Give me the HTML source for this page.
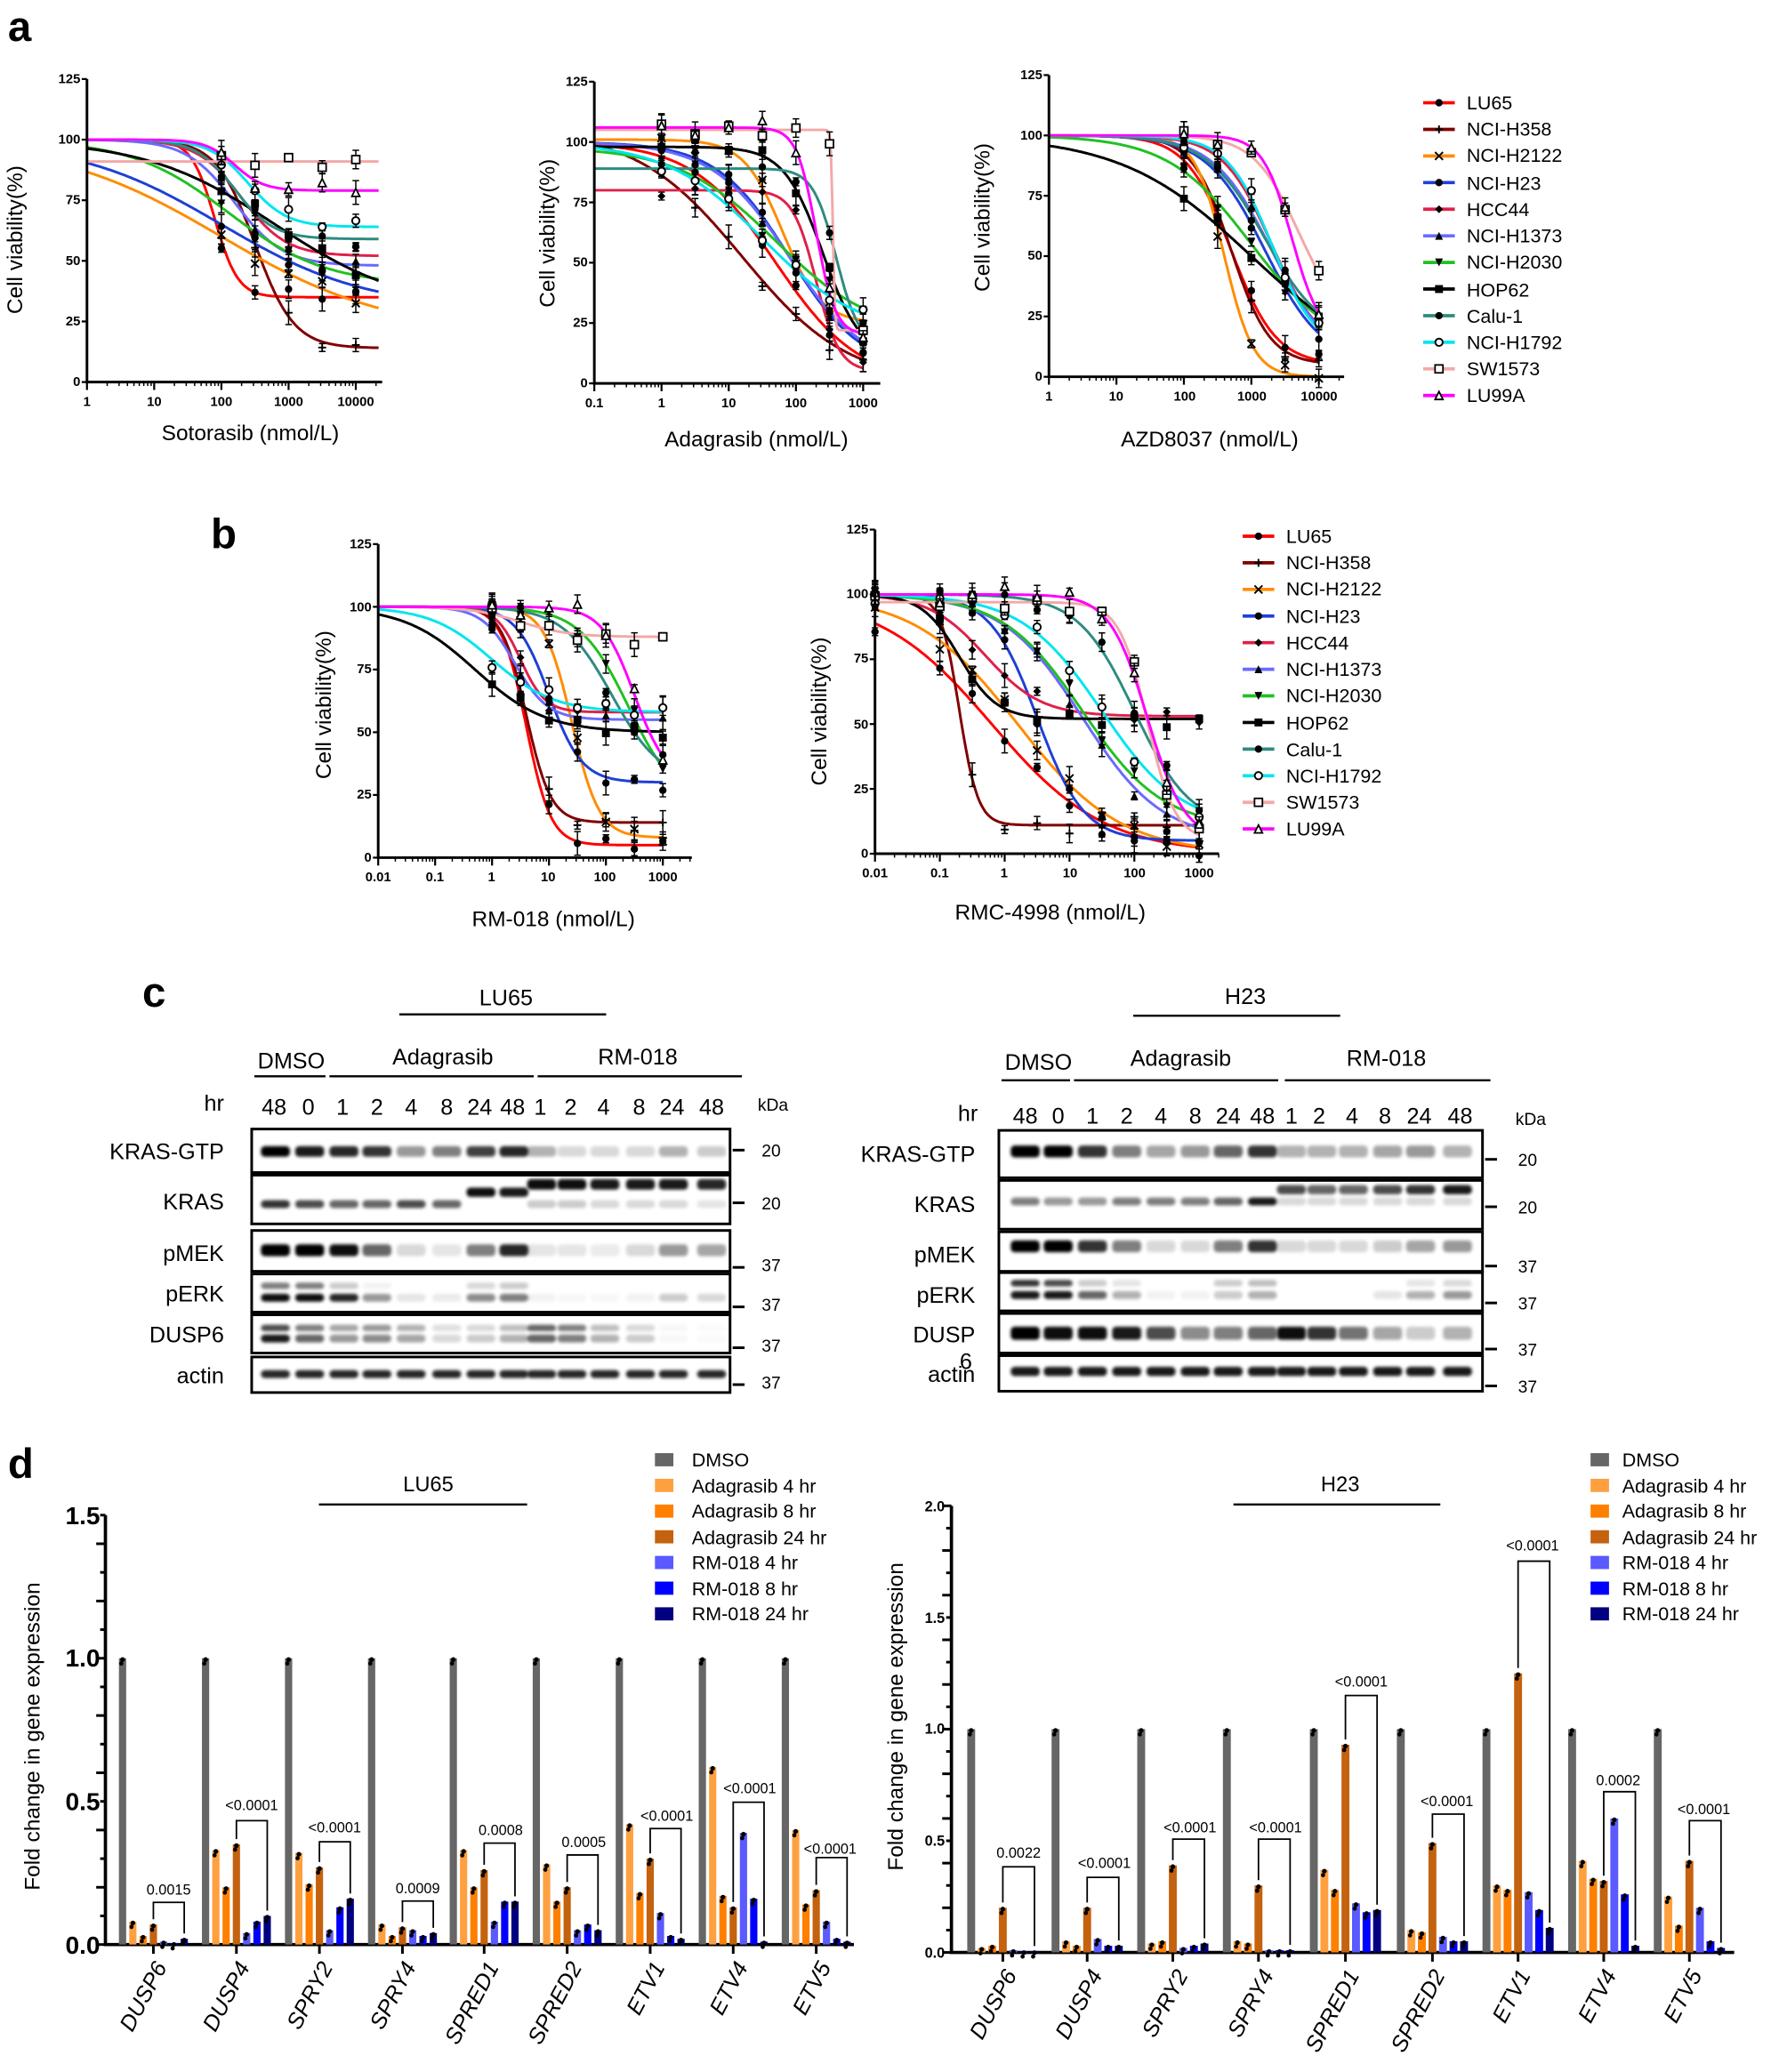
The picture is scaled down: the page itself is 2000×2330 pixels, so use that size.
<!DOCTYPE html>
<html><head><meta charset="utf-8"><style>
html,body{margin:0;padding:0;background:#fff;}
svg{display:block;font-family:"Liberation Sans",Arial,sans-serif;}
.tk{font-family:"Liberation Sans Narrow","Liberation Sans",sans-serif;font-weight:bold;font-size:10px;}
.al{font-size:16.5px;}
.lg{font-size:14.5px;}
.bl{font-size:17px;}
.pl{font-size:32px;font-weight:bold;}
.gn{font-size:17px;font-style:italic;}
.sg{font-size:11px;}
</style></head><body>
<svg id="s" width="2000" height="2330" viewBox="0 0 1350 1572.75" xmlns="http://www.w3.org/2000/svg">
<defs><filter id="bl" x="-20%" y="-50%" width="140%" height="200%"><feGaussianBlur stdDeviation="1.3"/></filter></defs>
<rect width="1350" height="1573" fill="#fff"/>
<!-- panel letters -->
<text class="pl" x="6" y="31">a</text>
<text class="pl" x="160" y="416">b</text>
<text class="pl" x="108" y="764">c</text>
<text class="pl" x="6" y="1122">d</text>

<!-- axis labels a/b -->
<text class="al" x="190" y="334" text-anchor="middle">Sotorasib (nmol/L)</text>
<text class="al" x="574" y="339" text-anchor="middle">Adagrasib (nmol/L)</text>
<text class="al" x="918" y="339" text-anchor="middle">AZD8037 (nmol/L)</text>
<text class="al" x="420" y="703" text-anchor="middle">RM-018 (nmol/L)</text>
<text class="al" x="797" y="698" text-anchor="middle">RMC-4998 (nmol/L)</text>
<text class="al" transform="translate(17,182) rotate(-90)" text-anchor="middle">Cell viability(%)</text>
<text class="al" transform="translate(421,177) rotate(-90)" text-anchor="middle">Cell viability(%)</text>
<text class="al" transform="translate(751,165) rotate(-90)" text-anchor="middle">Cell viability(%)</text>
<text class="al" transform="translate(251,535) rotate(-90)" text-anchor="middle">Cell viability(%)</text>
<text class="al" transform="translate(627,540) rotate(-90)" text-anchor="middle">Cell viability(%)</text>

<!-- legends a & b -->
<g class="lg">
<text x="1113" y="83">LU65</text><text x="1113" y="103">NCI-H358</text><text x="1113" y="123">NCI-H2122</text><text x="1113" y="144">NCI-H23</text><text x="1113" y="164">HCC44</text><text x="1113" y="184">NCI-H1373</text><text x="1113" y="204">NCI-H2030</text><text x="1113" y="225">HOP62</text><text x="1113" y="245">Calu-1</text><text x="1113" y="265">NCI-H1792</text><text x="1113" y="285">SW1573</text><text x="1113" y="305">LU99A</text>
<text x="976" y="412">LU65</text><text x="976" y="432">NCI-H358</text><text x="976" y="452">NCI-H2122</text><text x="976" y="473">NCI-H23</text><text x="976" y="493">HCC44</text><text x="976" y="513">NCI-H1373</text><text x="976" y="533">NCI-H2030</text><text x="976" y="554">HOP62</text><text x="976" y="574">Calu-1</text><text x="976" y="594">NCI-H1792</text><text x="976" y="614">SW1573</text><text x="976" y="634">LU99A</text>
</g>
<g class="tk" id="tks">
<!-- plot1 -->
<text x="61" y="63" text-anchor="end">125</text><text x="61" y="109" text-anchor="end">100</text><text x="61" y="155" text-anchor="end">75</text><text x="61" y="201" text-anchor="end">50</text><text x="61" y="247" text-anchor="end">25</text><text x="61" y="293" text-anchor="end">0</text>
<text x="66" y="308" text-anchor="middle">1</text><text x="117" y="308" text-anchor="middle">10</text><text x="168" y="308" text-anchor="middle">100</text><text x="219" y="308" text-anchor="middle">1000</text><text x="270" y="308" text-anchor="middle">10000</text>
<!-- plot2 -->
<text x="446" y="65" text-anchor="end">125</text><text x="446" y="111" text-anchor="end">100</text><text x="446" y="157" text-anchor="end">75</text><text x="446" y="202" text-anchor="end">50</text><text x="446" y="248" text-anchor="end">25</text><text x="446" y="294" text-anchor="end">0</text>
<text x="451" y="309" text-anchor="middle">0.1</text><text x="502" y="309" text-anchor="middle">1</text><text x="553" y="309" text-anchor="middle">10</text><text x="604" y="309" text-anchor="middle">100</text><text x="655" y="309" text-anchor="middle">1000</text>
<!-- plot3 -->
<text x="791" y="60" text-anchor="end">125</text><text x="791" y="106" text-anchor="end">100</text><text x="791" y="152" text-anchor="end">75</text><text x="791" y="197" text-anchor="end">50</text><text x="791" y="243" text-anchor="end">25</text><text x="791" y="289" text-anchor="end">0</text>
<text x="796" y="304" text-anchor="middle">1</text><text x="847" y="304" text-anchor="middle">10</text><text x="899" y="304" text-anchor="middle">100</text><text x="950" y="304" text-anchor="middle">1000</text><text x="1001" y="304" text-anchor="middle">10000</text>
<!-- plot4 -->
<text x="282" y="416" text-anchor="end">125</text><text x="282" y="464" text-anchor="end">100</text><text x="282" y="511" text-anchor="end">75</text><text x="282" y="559" text-anchor="end">50</text><text x="282" y="606" text-anchor="end">25</text><text x="282" y="654" text-anchor="end">0</text>
<text x="287" y="669" text-anchor="middle">0.01</text><text x="330" y="669" text-anchor="middle">0.1</text><text x="373" y="669" text-anchor="middle">1</text><text x="416" y="669" text-anchor="middle">10</text><text x="459" y="669" text-anchor="middle">100</text><text x="503" y="669" text-anchor="middle">1000</text>
<!-- plot5 -->
<text x="659" y="405" text-anchor="end">125</text><text x="659" y="454" text-anchor="end">100</text><text x="659" y="503" text-anchor="end">75</text><text x="659" y="553" text-anchor="end">50</text><text x="659" y="602" text-anchor="end">25</text><text x="659" y="651" text-anchor="end">0</text>
<text x="664" y="666" text-anchor="middle">0.01</text><text x="713" y="666" text-anchor="middle">0.1</text><text x="762" y="666" text-anchor="middle">1</text><text x="812" y="666" text-anchor="middle">10</text><text x="861" y="666" text-anchor="middle">100</text><text x="910" y="666" text-anchor="middle">1000</text>
</g>

<!-- panel c text -->
<g class="bl">
<text x="384" y="763" text-anchor="middle">LU65</text>
<text x="221" y="811" text-anchor="middle">DMSO</text><text x="336" y="808" text-anchor="middle">Adagrasib</text><text x="484" y="808" text-anchor="middle">RM-018</text>
<text x="170" y="843" text-anchor="end">hr</text>
<text x="208" y="846" text-anchor="middle">48</text><text x="234" y="846" text-anchor="middle">0</text><text x="260" y="846" text-anchor="middle">1</text><text x="286" y="846" text-anchor="middle">2</text><text x="312" y="846" text-anchor="middle">4</text><text x="339" y="846" text-anchor="middle">8</text><text x="364" y="846" text-anchor="middle">24</text><text x="389" y="846" text-anchor="middle">48</text><text x="410" y="846" text-anchor="middle">1</text><text x="433" y="846" text-anchor="middle">2</text><text x="458" y="846" text-anchor="middle">4</text><text x="485" y="846" text-anchor="middle">8</text><text x="510" y="846" text-anchor="middle">24</text><text x="540" y="846" text-anchor="middle">48</text>
<text x="170" y="880" text-anchor="end">KRAS-GTP</text><text x="170" y="918" text-anchor="end">KRAS</text><text x="170" y="957" text-anchor="end">pMEK</text><text x="170" y="988" text-anchor="end">pERK</text><text x="170" y="1019" text-anchor="end">DUSP6</text><text x="170" y="1050" text-anchor="end">actin</text>
<text x="945" y="762" text-anchor="middle">H23</text>
<text x="788" y="812" text-anchor="middle">DMSO</text><text x="896" y="809" text-anchor="middle">Adagrasib</text><text x="1052" y="809" text-anchor="middle">RM-018</text>
<text x="742" y="851" text-anchor="end">hr</text>
<text x="778" y="853" text-anchor="middle">48</text><text x="803" y="853" text-anchor="middle">0</text><text x="829" y="853" text-anchor="middle">1</text><text x="855" y="853" text-anchor="middle">2</text><text x="881" y="853" text-anchor="middle">4</text><text x="907" y="853" text-anchor="middle">8</text><text x="932" y="853" text-anchor="middle">24</text><text x="958" y="853" text-anchor="middle">48</text><text x="980" y="853" text-anchor="middle">1</text><text x="1001" y="853" text-anchor="middle">2</text><text x="1026" y="853" text-anchor="middle">4</text><text x="1051" y="853" text-anchor="middle">8</text><text x="1077" y="853" text-anchor="middle">24</text><text x="1108" y="853" text-anchor="middle">48</text>
<text x="740" y="882" text-anchor="end">KRAS-GTP</text><text x="740" y="920" text-anchor="end">KRAS</text><text x="740" y="958" text-anchor="end">pMEK</text><text x="740" y="989" text-anchor="end">pERK</text><text x="740" y="1019" text-anchor="end">DUSP</text><text x="733" y="1039" text-anchor="middle">6</text><text x="740" y="1049" text-anchor="end">actin</text>
</g>
<g style="font-size:13px">
<text x="575" y="843">kDa</text>
<text x="578" y="878">20</text><text x="578" y="918">20</text><text x="578" y="965">37</text><text x="578" y="995">37</text><text x="578" y="1026">37</text><text x="578" y="1054">37</text>
<text x="1150" y="854">kDa</text>
<text x="1152" y="885">20</text><text x="1152" y="921">20</text><text x="1152" y="966">37</text><text x="1152" y="994">37</text><text x="1152" y="1029">37</text><text x="1152" y="1057">37</text>
</g>

<!-- panel d text -->
<g class="lg">
<text x="325" y="1132" text-anchor="middle" style="font-size:16px">LU65</text>
<text x="1017" y="1132" text-anchor="middle" style="font-size:16px">H23</text>
<text x="525" y="1113">DMSO</text><text x="525" y="1133">Adagrasib 4 hr</text><text x="525" y="1152">Adagrasib 8 hr</text><text x="525" y="1172">Adagrasib 24 hr</text><text x="525" y="1191">RM-018 4 hr</text><text x="525" y="1211">RM-018 8 hr</text><text x="525" y="1230">RM-018 24 hr</text>
<text x="1231" y="1113">DMSO</text><text x="1231" y="1133">Adagrasib 4 hr</text><text x="1231" y="1152">Adagrasib 8 hr</text><text x="1231" y="1172">Adagrasib 24 hr</text><text x="1231" y="1191">RM-018 4 hr</text><text x="1231" y="1211">RM-018 8 hr</text><text x="1231" y="1230">RM-018 24 hr</text>
</g>
<g style="font-size:19px;font-weight:bold;font-family:'Liberation Sans Narrow','Liberation Sans',sans-serif">
<text x="76" y="1157" text-anchor="end">1.5</text><text x="76" y="1265" text-anchor="end">1.0</text><text x="76" y="1374" text-anchor="end">0.5</text><text x="76" y="1483" text-anchor="end">0.0</text>
</g>
<g class="tk" style="font-size:11px">
<text x="717" y="1147" text-anchor="end">2.0</text><text x="717" y="1232" text-anchor="end">1.5</text><text x="717" y="1316" text-anchor="end">1.0</text><text x="717" y="1401" text-anchor="end">0.5</text><text x="717" y="1486" text-anchor="end">0.0</text>
</g>
<text class="al" transform="translate(30,1318) rotate(-90)" text-anchor="middle">Fold change in gene expression</text>
<text class="al" transform="translate(685,1303) rotate(-90)" text-anchor="middle">Fold change in gene expression</text>
<g class="gn" id="gn1">
<text transform="translate(127,1493) rotate(-62)" text-anchor="end">DUSP6</text>
<text transform="translate(190,1493) rotate(-62)" text-anchor="end">DUSP4</text>
<text transform="translate(253,1493) rotate(-62)" text-anchor="end">SPRY2</text>
<text transform="translate(316,1493) rotate(-62)" text-anchor="end">SPRY4</text>
<text transform="translate(379,1493) rotate(-62)" text-anchor="end">SPRED1</text>
<text transform="translate(442,1493) rotate(-62)" text-anchor="end">SPRED2</text>
<text transform="translate(505,1493) rotate(-62)" text-anchor="end">ETV1</text>
<text transform="translate(568,1493) rotate(-62)" text-anchor="end">ETV4</text>
<text transform="translate(631,1493) rotate(-62)" text-anchor="end">ETV5</text>
<text transform="translate(772,1499) rotate(-62)" text-anchor="end">DUSP6</text>
<text transform="translate(837,1499) rotate(-62)" text-anchor="end">DUSP4</text>
<text transform="translate(902,1499) rotate(-62)" text-anchor="end">SPRY2</text>
<text transform="translate(967,1499) rotate(-62)" text-anchor="end">SPRY4</text>
<text transform="translate(1032,1499) rotate(-62)" text-anchor="end">SPRED1</text>
<text transform="translate(1097,1499) rotate(-62)" text-anchor="end">SPRED2</text>
<text transform="translate(1162,1499) rotate(-62)" text-anchor="end">ETV1</text>
<text transform="translate(1227,1499) rotate(-62)" text-anchor="end">ETV4</text>
<text transform="translate(1292,1499) rotate(-62)" text-anchor="end">ETV5</text>
</g>
<g class="sg" text-anchor="middle">
<text x="128" y="1438">0.0015</text><text x="191" y="1374">&lt;0.0001</text><text x="254" y="1391">&lt;0.0001</text><text x="317" y="1437">0.0009</text><text x="380" y="1393">0.0008</text><text x="443" y="1402">0.0005</text><text x="506" y="1382">&lt;0.0001</text><text x="569" y="1361">&lt;0.0001</text><text x="630" y="1407">&lt;0.0001</text>
<text x="773" y="1410">0.0022</text><text x="838" y="1418">&lt;0.0001</text><text x="903" y="1391">&lt;0.0001</text><text x="968" y="1391">&lt;0.0001</text><text x="1033" y="1280">&lt;0.0001</text><text x="1098" y="1371">&lt;0.0001</text><text x="1163" y="1177">&lt;0.0001</text><text x="1228" y="1355">0.0002</text><text x="1293" y="1377">&lt;0.0001</text>
</g>
<g id="g"></g>
</svg>
<script>
var NS="http://www.w3.org/2000/svg",G=document.getElementById("g");
function el(t,a,p){var e=document.createElementNS(NS,t);for(var k in a)e.setAttribute(k,a[k]);(p||G).appendChild(e);return e;}
var COL=["#ff0000","#800000","#ff8c00","#1f3fd6","#e0204a","#6a6aff","#22c022","#000000","#2e8b80","#00e5ee","#f4a8a8","#ff00ff"];
var MK=["ast","plus","x","dot","dia","tri","tri2","sq","dot","circ","osq","otri"];
function marker(x,y,m,c,p){var s=3;
 if(m=="plus"){el("path",{d:"M"+(x-s)+" "+y+"h"+2*s+"M"+x+" "+(y-s)+"v"+2*s,stroke:c,"stroke-width":1.3},p);}
 else if(m=="x"){el("path",{d:"M"+(x-s)+" "+(y-s)+"l"+2*s+" "+2*s+"M"+(x-s)+" "+(y+s)+"l"+2*s+" "+(-2*s),stroke:c,"stroke-width":1.3},p);}
 else if(m=="dot"||m=="ast"){el("circle",{cx:x,cy:y,r:2.8,fill:c},p);}
 else if(m=="circ"){el("circle",{cx:x,cy:y,r:2.8,fill:"#fff",stroke:c,"stroke-width":1.3},p);}
 else if(m=="dia"){el("path",{d:"M"+x+" "+(y-s)+"l"+s+" "+s+"l"+(-s)+" "+s+"l"+(-s)+" "+(-s)+"z",fill:c},p);}
 else if(m=="tri"){el("path",{d:"M"+x+" "+(y-s)+"l"+s+" "+2*s+"h"+(-2*s)+"z",fill:c},p);}
 else if(m=="tri2"){el("path",{d:"M"+x+" "+(y+s)+"l"+s+" "+(-2*s)+"h"+(-2*s)+"z",fill:c},p);}
 else if(m=="otri"){el("path",{d:"M"+x+" "+(y-s)+"l"+s+" "+2*s+"h"+(-2*s)+"z",fill:"#fff",stroke:c,"stroke-width":1.2},p);}
 else if(m=="sq"){el("rect",{x:x-s,y:y-s,width:2*s,height:2*s,fill:c},p);}
 else if(m=="osq"){el("rect",{x:x-s,y:y-s,width:2*s,height:2*s,fill:"#fff",stroke:c,"stroke-width":1.2},p);}
}
function f(p,l){return p[1]+(p[0]-p[1])/(1+Math.pow(10,(l-p[2])*p[3]));}
function plot(c){
 var Y=function(v){return c.yb-v*(c.yb-c.yt)/125;},X=function(l){return c.x0+(l-c.lmin)*c.dw;};
 // curves
 c.P.forEach(function(p,i){var d="";for(var l=c.lmin;l<=c.lmax+1e-9;l+=0.02){d+=(d?"L":"M")+X(l).toFixed(1)+" "+Y(f(p,l)).toFixed(1);}
  el("path",{d:d,fill:"none",stroke:COL[i],"stroke-width":2});});
 // points
 c.P.forEach(function(p,i){c.pts.forEach(function(l,j){var v=f(p,l)+((i*7+j*13)%9-4)*0.8;var x=X(l),y=Y(v),e=3+((i+j)%4)*2;
  el("path",{d:"M"+x+" "+(y-e)+"v"+2*e+"M"+(x-2.5)+" "+(y-e)+"h5M"+(x-2.5)+" "+(y+e)+"h5",stroke:"#000","stroke-width":1});
  marker(x,y,MK[i],"#000");});});
 // axes
 el("path",{d:"M"+c.x0+" "+c.yt+"V"+c.yb+"H"+c.xe,stroke:"#000","stroke-width":2,fill:"none"});
 for(var v=0;v<=125;v+=25)el("path",{d:"M"+(c.x0-4)+" "+Y(v)+"H"+c.x0,stroke:"#000","stroke-width":1.5});
 for(var d=c.lmin;d<=c.lmax+1;d++){ if(X(d)<=c.xe+0.5) el("path",{d:"M"+X(d)+" "+c.yb+"v6",stroke:"#000","stroke-width":1.5});
  for(var k=2;k<10;k++){var xx=X(d+Math.log10(k));if(xx<=c.xe)el("path",{d:"M"+xx+" "+c.yb+"v3",stroke:"#000","stroke-width":1});}}
}
plot({x0:66,lmin:0,lmax:4.35,dw:51,xe:290,yt:60,yb:290,pts:[2,2.5,3,3.5,4],P:[
[100,35,1.9,2.5],[100,14,2.5,1.5],[100,20,2.0,0.35],[100,30,2.0,0.4],[100,52,2.3,1.3],[100,48,2.2,1.2],[100,40,2.1,0.6],[100,30,2.8,0.45],[100,59,2.2,1.5],[100,64,2.4,1.5],[91,91,2,1],[100,79,2.2,2]]});
plot({x0:451,lmin:-1,lmax:3,dw:51,xe:668,yt:62,yb:291,pts:[0,0.5,1,1.5,2,2.5,3],P:[
[100,0,1.7,0.7],[105,0,1.2,0.55],[101,25,1.8,1.5],[100,5,1.9,0.8],[80,5,2.3,2.5],[100,5,1.9,0.75],[98,20,1.7,0.6],[98,10,2.4,1.5],[89,15,2.6,2.5],[100,20,1.5,0.6],[105,22,2.55,30],[106,20,2.3,3]]});
plot({x0:796,lmin:0,lmax:4,dw:51.2,xe:1020,yt:57,yb:286,pts:[2,2.5,3,3.5,4],P:[
[100,5,2.7,1.3],[100,5,2.7,1.5],[100,0,2.6,2.0],[100,5,3.2,1.0],[100,10,3.3,1.2],[100,5,3.3,1.0],[100,10,3.0,0.7],[100,0,3.0,0.45],[100,15,3.2,1.0],[100,10,3.3,1.3],[100,20,3.7,1.3],[100,15,3.6,2]]});
plot({x0:287,lmin:-2,lmax:3,dw:43.2,xe:525,yt:413,yb:651,pts:[0,0.5,1,1.5,2,2.5,3],P:[
[100,5,0.6,2],[100,14,0.6,2],[100,8,1.4,1.8],[100,30,1.0,1.5],[100,58,0.5,2],[100,55,0.4,1.5],[100,20,2.4,1],[100,50,-0.3,0.7],[100,30,2.1,1],[100,58,0,0.8],[100,88,0.5,1],[100,30,2.5,1.5]]});
plot({x0:664,lmin:-2,lmax:3,dw:49.2,xe:925,yt:402,yb:648,pts:[-2,-1,-0.5,0,0.5,1,1.5,2,2.5,3],P:[
[100,0,-0.2,0.5],[100,11,-0.7,3],[100,0,0.2,0.55],[100,5,0.5,1.2],[100,53,-0.3,1],[100,5,1.2,0.7],[100,10,1.2,0.7],[100,52,-0.7,1.5],[100,10,2.0,1],[100,10,1.5,0.7],[97,5,2.2,2],[100,5,2.2,1.5]]});
// legend lines
[[1080,78],[943,407]].forEach(function(L){for(var i=0;i<12;i++){var y=L[1]+i*20.2;el("path",{d:"M"+L[0]+" "+y+"h24",stroke:COL[i],"stroke-width":2.5});marker(L[0]+12,y,MK[i],"#000");}});

// blots
function blot(bx0,bx1,rows,lanes,kda){
 rows.forEach(function(r){el("rect",{x:bx0,y:r.t,width:bx1-bx0,height:r.b-r.t,fill:"#fff",stroke:"#000","stroke-width":2});
  r.bands.forEach(function(b){b.v.forEach(function(v,i){if(v>0.01)el("rect",{x:lanes[i]-11,y:b.y-b.h/2,width:22,height:b.h,rx:3,fill:"#000","fill-opacity":Math.min(1,v),filter:"url(#bl)"});});});});
 kda.forEach(function(y){el("path",{d:"M"+(bx1+2)+" "+y+"h9",stroke:"#000","stroke-width":2});});
}
var L1=[209,235,261,286,312,339,365,390,411,434,459,486,511,540];
blot(191,554,[
 {t:857,b:890,bands:[{y:874,h:8,v:[1,.9,.85,.8,.4,.5,.75,.85,.3,.15,.15,.15,.3,.2]}]},
 {t:892,b:929,bands:[{y:914,h:6,v:[.8,.7,.6,.6,.7,.6,0,0,.2,.2,.15,.15,.15,.1]},{y:905,h:7,v:[0,0,0,0,0,0,.95,.9,0,0,0,0,0,0]},{y:899,h:8,v:[0,0,0,0,0,0,0,0,.95,.95,.9,.9,.9,.85]}]},
 {t:934,b:965,bands:[{y:949,h:9,v:[1,1,.95,.6,.15,.1,.5,.85,.1,.1,.08,.15,.4,.35]}]},
 {t:967,b:996,bands:[{y:985,h:6,v:[.95,.95,.85,.4,.1,.08,.45,.5,.05,.03,.03,.05,.2,.15]},{y:976,h:5,v:[.5,.5,.2,.05,0,0,.15,.2,0,0,0,0,0,0]}]},
 {t:998,b:1027,bands:[{y:1008,h:5,v:[.7,.5,.35,.4,.3,.12,.15,.25,.6,.5,.25,.15,.03,.02]},{y:1016,h:6,v:[.9,.6,.4,.45,.35,.15,.2,.3,.6,.5,.3,.2,.03,.02]}]},
 {t:1030,b:1057,bands:[{y:1043,h:6,v:[.85,.85,.85,.85,.85,.85,.85,.85,.85,.85,.85,.85,.85,.85]}]}],L1,[873,913,962,992,1023,1051]);
var L2=[778,803,829,855,881,907,932,958,980,1003,1027,1053,1078,1106];
blot(758,1125,[
 {t:858,b:894,bands:[{y:874,h:9,v:[1,1,.8,.5,.35,.4,.6,.8,.3,.3,.3,.35,.4,.3]}]},
 {t:896,b:933,bands:[{y:912,h:6,v:[.5,.4,.4,.5,.5,.5,.6,.9,.15,.15,.15,.15,.15,.15]},{y:903,h:7,v:[0,0,0,0,0,0,0,0,.7,.6,.6,.7,.8,.9]}]},
 {t:935,b:965,bands:[{y:946,h:9,v:[1,1,.8,.5,.15,.15,.5,.8,.15,.15,.15,.2,.35,.4]}]},
 {t:966,b:995,bands:[{y:983,h:6,v:[.9,.9,.6,.3,.05,.05,.2,.3,0,0,0,.1,.3,.4]},{y:974,h:5,v:[.8,.7,.2,.1,0,0,.2,.25,0,0,0,0,.1,.15]}]},
 {t:997,b:1027,bands:[{y:1012,h:10,v:[1,.95,.95,.9,.7,.45,.5,.6,.95,.8,.55,.35,.2,.3]}]},
 {t:1029,b:1056,bands:[{y:1041,h:7,v:[.9,.9,.9,.9,.9,.9,.9,.9,.9,.9,.9,.9,.9,.9]}]}],L2,[880,916,961,989,1024,1052]);
// group lines
[[303,460,770],[193,247,817],[250,405,817],[408,563,817],[860,1017,771],[760,812,820],[815,970,820],[975,1131,820],[242,400,1142],[936,1093,1142]].forEach(function(a){el("path",{d:"M"+a[0]+" "+a[2]+"H"+a[1],stroke:"#000","stroke-width":1.6});});

// bar charts
var BC=["#666666","#ffa040","#ff8000","#c4620f","#5a5aff","#0000ff","#000080"];
[[497,1108],[1207,1108]].forEach(function(L){for(var i=0;i<7;i++)el("rect",{x:L[0],y:L[1]+i*19.5-5,width:14,height:10,fill:BC[i]});});
function bars(c){
 el("path",{d:"M"+c.x0+" "+c.yt+"V"+c.yb+"H"+c.xe,stroke:"#000","stroke-width":2.5,fill:"none"});
 c.ticks.forEach(function(v,i){var y=c.yb-v*c.s;el("path",{d:"M"+(c.x0-(i%2?4:7))+" "+y+"H"+c.x0,stroke:"#000","stroke-width":2});});
 c.g.forEach(function(vals,gi){var x0=c.gx[gi];var v=[1].concat(vals);
  v.forEach(function(val,i){var x=x0+i*c.st;var h=val*c.s;el("rect",{x:x-c.w/2,y:c.yb-h,width:c.w,height:h,fill:BC[i]});
   el("circle",{cx:x,cy:c.yb-h+1,r:1.8,fill:"#000"});el("circle",{cx:x-1,cy:c.yb-h+4,r:1.6,fill:"#000"});});
  var xc=x0+3*c.st;el("path",{d:"M"+xc+" "+c.yb+"v7",stroke:"#000","stroke-width":2});
  var bt=c.br[gi],xa=x0+3*c.st,xb=x0+6*c.st;
  el("path",{d:"M"+xa+" "+(c.yb-v[3]*c.s-4)+"V"+bt+"H"+xb+"V"+(c.yb-v[6]*c.s-4),stroke:"#000","stroke-width":1.2,fill:"none"});
 });
}
bars({x0:80,yt:1150,yb:1476,xe:648,s:217.3,w:5.5,st:7.8,ticks:[0,0.1,0.2,0.3,0.4,0.5,0.6,0.7,0.8,0.9,1,1.1,1.2,1.3,1.4,1.5].map(function(v){return v;}),
 gx:[93,156,219,282,344,407,470,533,596],
 g:[[.08,.03,.07,.01,.005,.02],[.33,.2,.35,.04,.08,.1],[.32,.21,.27,.05,.13,.16],[.07,.03,.06,.05,.03,.04],[.33,.2,.26,.08,.15,.15],[.28,.15,.2,.05,.07,.05],[.42,.18,.3,.11,.03,.02],[.62,.17,.13,.39,.16,.01],[.4,.14,.19,.08,.02,.01]],
 br:[1444,1382,1398,1443,1399,1408,1388,1368,1410]});
bars({x0:722,yt:1143,yb:1482,xe:1316,s:169.5,w:6,st:8,ticks:[0,0.1,0.2,0.3,0.4,0.5,0.6,0.7,0.8,0.9,1,1.1,1.2,1.3,1.4,1.5,1.6,1.7,1.8,1.9,2.0],
 gx:[737,801,866,931,997,1063,1128,1193,1258],
 g:[[.02,.03,.2,.01,.005,.005],[.05,.03,.2,.06,.03,.03],[.04,.05,.39,.02,.03,.04],[.05,.04,.3,.01,.01,.01],[.37,.28,.93,.22,.18,.19],[.1,.09,.49,.07,.05,.05],[.3,.28,1.25,.27,.19,.11],[.41,.33,.32,.6,.26,.03],[.25,.12,.41,.2,.05,.02]],
 br:[1417,1425,1396,1396,1287,1377,1185,1360,1382]});
</script>
</body></html>
